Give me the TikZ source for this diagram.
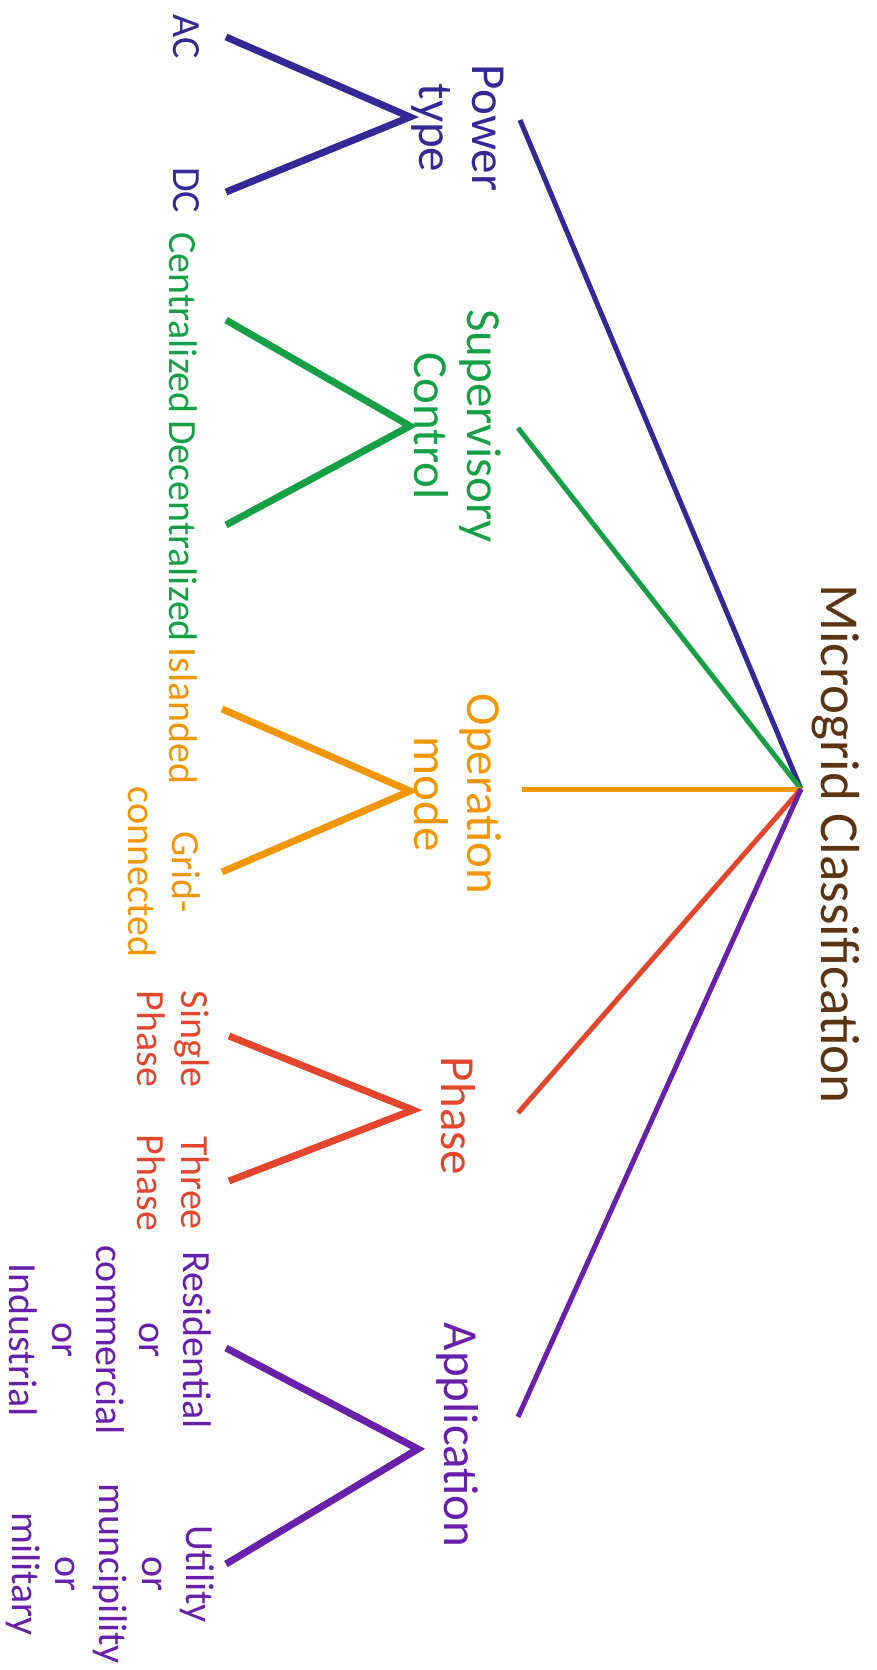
\documentclass[tikz,border=0pt]{standalone}
\usepackage{fontspec}
\setmainfont{Carlito}
\definecolor{powc}{RGB}{52,40,150}
\definecolor{supc}{RGB}{22,160,70}
\definecolor{opc}{RGB}{242,150,5}
\definecolor{phc}{RGB}{228,70,45}
\definecolor{appc}{RGB}{104,32,170}
\definecolor{titc}{RGB}{92,52,18}
\begin{document}
\begin{tikzpicture}[x=1pt,y=-1pt,
  lbl/.style={rotate=-90,align=center,inner sep=0pt},
  title/.style={lbl,font=\fontsize{55}{60}\selectfont,text=titc},
  midlbl/.style={lbl,font=\fontsize{49}{53}\selectfont},
  leaflbl/.style={lbl,font=\fontsize{40}{43.5}\selectfont},
  mainln/.style={line width=5pt},
  forkln/.style={line width=7pt,line join=miter}]
\useasboundingbox (0,0) rectangle (877,1670);
% title and hub
\node[title] (title) at (836,844) {Microgrid Classification};
\coordinate (hub) at (801,789);
% mid labels
\node[midlbl,text=powc] (pow) at (458,128) {Power\\type};
\node[midlbl,text=supc] (sup) at (458,426) {Supervisory\\Control};
\node[midlbl,text=opc] (op) at (458,794) {Operation\\mode};
\node[midlbl,text=phc] (ph) at (458,1116) {Phase};
\node[midlbl,text=appc] (app) at (458,1435) {Application};
% leaf labels
\node[leaflbl,text=powc] (ac) at (186,37) {AC};
\node[leaflbl,text=powc] (dc) at (186,190) {DC};
\node[leaflbl,text=supc] (cen) at (183,323) {Centralized};
\node[leaflbl,text=supc] (dec) at (183,531) {Decentralized};
\node[leaflbl,text=opc] (isl) at (183,716) {Islanded};
\node[leaflbl,text=opc] (grid) at (164,872) {Grid-\\connected};
\node[leaflbl,text=phc] (sgl) at (173,1039) {Single\\Phase};
\node[leaflbl,text=phc] (thr) at (173,1183) {Three\\Phase};
\node[leaflbl,text=appc] (res) at (110,1340) {Residential\\or\\commercial\\or\\Industrial};
\node[leaflbl,text=appc] (uti) at (110,1574) {Utility\\or\\muncipility\\or\\military};
% connector end points
\coordinate (powE) at (520,120);
\coordinate (supE) at (518,428);
\coordinate (opE) at (522,789);
\coordinate (phE) at (518,1113);
\coordinate (appE) at (518,1417);
\coordinate (powA) at (410,117);
\coordinate (acE) at (226,37);
\coordinate (dcE) at (226,192);
\coordinate (supA) at (410,426);
\coordinate (cenE) at (226,320);
\coordinate (decE) at (226,525);
\coordinate (opA) at (410,791);
\coordinate (islE) at (222,709);
\coordinate (gridE) at (222,872);
\coordinate (phA) at (413,1110);
\coordinate (sglE) at (229,1036);
\coordinate (thrE) at (229,1181);
\coordinate (appA) at (418,1449);
\coordinate (resE) at (226,1348);
\coordinate (utiE) at (226,1564);
% main connectors
\draw[mainln,powc] (hub) -- (powE);
\draw[mainln,supc] (hub) -- (supE);
\draw[mainln,opc] (hub) -- (opE);
\draw[mainln,phc] (hub) -- (phE);
\draw[mainln,appc] (hub) -- (appE);
% forks
\draw[forkln,powc] (acE) -- (powA) -- (dcE);
\draw[forkln,supc] (cenE) -- (supA) -- (decE);
\draw[forkln,opc] (islE) -- (opA) -- (gridE);
\draw[forkln,phc] (sglE) -- (phA) -- (thrE);
\draw[forkln,appc] (resE) -- (appA) -- (utiE);
\end{tikzpicture}
\end{document}
